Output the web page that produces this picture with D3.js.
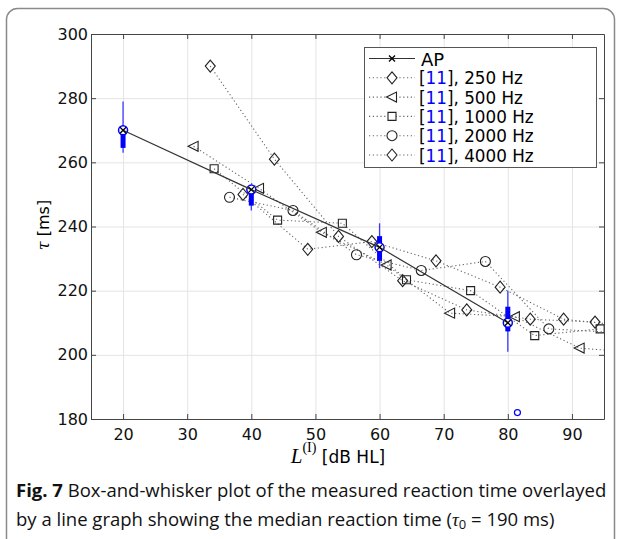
<!DOCTYPE html>
<meta charset="utf-8">
<style>
body { margin: 0; background: #fff; }
svg { font-family: "DejaVu Sans", sans-serif; }
.grid line { stroke: #e4e4e4; }
.grid path { display: none; }
.axis path, .axis line { stroke: #444; }
.axis text { font-size: 16px; fill: #111; font-family: "DejaVu Sans", sans-serif; }
</style>
<svg width="622" height="539"></svg>
<script src="https://d3js.org/d3.v7.min.js"></script>
<script>

// median reaction time (AP) and box stats per level
var apLevels = [20, 40, 60, 80],
    apMedian = [270, 251.5, 233.5, 210],
    boxLow   = [263, 245, 227, 201],
    boxQ1    = [264.5, 246.5, 229.3, 207.3],
    boxQ3    = [270.5, 252, 237, 215],
    boxHigh  = [279, 253, 241, 220];

var outlierX = [81.5],
    outlierY = [182];

// reference [11] curves
var x250  = [38.7, 48.8, 58.8, 68.8, 78.8, 88.7, 98.7],
    y250  = [250, 232.9, 235.3, 229.3, 221.1, 211.1, 209];
var x500  = [31.0, 41.2, 51.0, 61.1, 71.0, 81.1, 91.2, 101.2],
    y500  = [265, 251.9, 238.2, 228.0, 213, 211.9, 202.1, 200.5];
var x1000 = [34.2, 44.1, 54.2, 64.2, 74.2, 84.2, 94.4],
    y1000 = [258, 242, 241, 223.4, 220, 206, 208.1];
var x2000 = [36.6, 46.5, 56.4, 66.5, 76.5, 86.4, 96.4],
    y2000 = [249.1, 245, 231.2, 226.3, 229.1, 208.1, 207];
var x4000 = [33.6, 43.6, 53.6, 63.6, 73.6, 83.5, 93.6],
    y4000 = [290, 261, 236.9, 223.1, 214, 211.1, 210.2];

var xTicks = [20, 30, 40, 50, 60, 70, 80, 90],
    yTicks = [180, 200, 220, 240, 260, 280, 300];

var legendLabels = ["250 Hz", "500 Hz", "1000 Hz", "2000 Hz", "4000 Hz"];

var svg = d3.select("svg");

var pLeft = 91, pRight = 604, pTop = 34, pBottom = 419;

var x = d3.scaleLinear().domain([15, 95]).range([pLeft, pRight]),
    y = d3.scaleLinear().domain([180, 300]).range([pBottom, pTop]);

// figure frame
svg.append("rect")
    .attr("x", 6.5).attr("y", 8.5)
    .attr("width", 608).attr("height", 580)
    .attr("rx", 11)
    .attr("fill", "none")
    .attr("stroke", "#8a8a8a")
    .attr("stroke-width", 1.5);

svg.append("clipPath").attr("id", "plot-clip")
  .append("rect")
    .attr("x", pLeft).attr("y", pTop)
    .attr("width", pRight - pLeft).attr("height", pBottom - pTop);

// grid
svg.append("g").attr("class", "grid")
    .attr("transform", "translate(0," + pBottom + ")")
    .call(d3.axisBottom(x).tickValues(xTicks).tickSize(-(pBottom - pTop)).tickFormat(""));
svg.append("g").attr("class", "grid")
    .attr("transform", "translate(" + pLeft + ",0)")
    .call(d3.axisLeft(y).tickValues(yTicks).tickSize(-(pRight - pLeft)).tickFormat(""));

// axes (ticks inward, box on)
svg.append("g").attr("class", "axis")
    .attr("transform", "translate(0," + pBottom + ")")
    .call(d3.axisBottom(x).tickValues(xTicks).tickSizeInner(-5).tickSizeOuter(0).tickPadding(10));
svg.append("g").attr("class", "axis")
    .attr("transform", "translate(" + pLeft + ",0)")
    .call(d3.axisLeft(y).tickValues(yTicks).tickSizeInner(-5).tickSizeOuter(0).tickPadding(3));
svg.append("g").attr("class", "axis")
    .attr("transform", "translate(0," + pTop + ")")
    .call(d3.axisTop(x).tickValues(xTicks).tickSizeInner(-5).tickSizeOuter(0).tickFormat(""));
svg.append("g").attr("class", "axis")
    .attr("transform", "translate(" + pRight + ",0)")
    .call(d3.axisRight(y).tickValues(yTicks).tickSizeInner(-5).tickSizeOuter(0).tickFormat(""));

// marker shapes
var shapes = {
  diamond: "M0,-6L5,0L0,6L-5,0Z",
  triangle: "M-5.5,0L4.5,-5L4.5,5Z",
  square: "M-4,-4H4V4H-4Z",
  circle: "M5,0A5,5 0 1,1 -5,0A5,5 0 1,1 5,0Z",
  cross: "M-3,-3L3,3M-3,3L3,-3"
};

var refs = [
  {xs: x250, ys: y250, shape: "diamond"},
  {xs: x500, ys: y500, shape: "triangle"},
  {xs: x1000, ys: y1000, shape: "square"},
  {xs: x2000, ys: y2000, shape: "circle"},
  {xs: x4000, ys: y4000, shape: "diamond"}
];

var plot = svg.append("g").attr("clip-path", "url(#plot-clip)");

var line = d3.line().x(function(d) { return x(d[0]); }).y(function(d) { return y(d[1]); });

refs.forEach(function(s) {
  var pts = d3.zip(s.xs, s.ys);
  plot.append("path")
      .datum(pts)
      .attr("d", line)
      .attr("fill", "none")
      .attr("stroke", "#666")
      .attr("stroke-width", 1.1)
      .attr("stroke-dasharray", "1.2,2.6");
  plot.selectAll(null)
      .data(pts)
    .enter().append("path")
      .attr("transform", function(d) { return "translate(" + x(d[0]) + "," + y(d[1]) + ")"; })
      .attr("d", shapes[s.shape])
      .attr("fill", "none")
      .attr("stroke", "#222")
      .attr("stroke-width", 1.1);
});

// box plots
var boxes = apLevels.map(function(l, i) {
  return {x: l, lo: boxLow[i], q1: boxQ1[i], med: apMedian[i], q3: boxQ3[i], hi: boxHigh[i]};
});

var bp = svg.append("g");
bp.selectAll(".whisker").data(boxes).enter().append("line")
    .attr("x1", function(d) { return x(d.x); })
    .attr("x2", function(d) { return x(d.x); })
    .attr("y1", function(d) { return y(d.lo); })
    .attr("y2", function(d) { return y(d.hi); })
    .attr("stroke", "#3a3aff")
    .attr("stroke-width", 1.3);
bp.selectAll(".box").data(boxes).enter().append("line")
    .attr("x1", function(d) { return x(d.x); })
    .attr("x2", function(d) { return x(d.x); })
    .attr("y1", function(d) { return y(d.q1); })
    .attr("y2", function(d) { return y(d.q3); })
    .attr("stroke", "#0000ff")
    .attr("stroke-width", 5);
bp.selectAll(".med").data(boxes).enter().append("circle")
    .attr("cx", function(d) { return x(d.x); })
    .attr("cy", function(d) { return y(d.med); })
    .attr("r", 4.5)
    .attr("fill", "#fff")
    .attr("stroke", "#0000ff")
    .attr("stroke-width", 1.5);
bp.selectAll(".out").data(d3.zip(outlierX, outlierY)).enter().append("circle")
    .attr("cx", function(d) { return x(d[0]); })
    .attr("cy", function(d) { return y(d[1]); })
    .attr("r", 3)
    .attr("fill", "none")
    .attr("stroke", "#0000ff")
    .attr("stroke-width", 1.2);

// AP median line
var apPts = d3.zip(apLevels, apMedian);
svg.append("path")
    .datum(apPts)
    .attr("d", line)
    .attr("fill", "none")
    .attr("stroke", "#333")
    .attr("stroke-width", 1.2);
svg.selectAll(".apm").data(apPts).enter().append("path")
    .attr("transform", function(d) { return "translate(" + x(d[0]) + "," + y(d[1]) + ")"; })
    .attr("d", shapes.cross)
    .attr("stroke", "#000")
    .attr("stroke-width", 1.3);

// legend
var lg = svg.append("g").attr("transform", "translate(364,47)");
lg.append("rect")
    .attr("x", 0.5).attr("y", 0.5)
    .attr("width", 232).attr("height", 120)
    .attr("fill", "#fff")
    .attr("stroke", "#555");

var rowY = function(i) { return 11.5 + i * 19.3; };

lg.append("line").attr("x1", 5).attr("x2", 51).attr("y1", rowY(0)).attr("y2", rowY(0))
    .attr("stroke", "#333").attr("stroke-width", 1.2);
lg.append("path").attr("transform", "translate(28," + rowY(0) + ")")
    .attr("d", shapes.cross).attr("stroke", "#000").attr("stroke-width", 1.3);
lg.append("text").attr("x", 57).attr("y", rowY(0) + 7)
    .style("font-size", "18px").text("AP");

refs.forEach(function(s, i) {
  var yy = rowY(i + 1);
  lg.append("line").attr("x1", 5).attr("x2", 51).attr("y1", yy).attr("y2", yy)
      .attr("stroke", "#666").attr("stroke-width", 1.1).attr("stroke-dasharray", "1.2,2.6");
  lg.append("path").attr("transform", "translate(28," + yy + ")")
      .attr("d", shapes[s.shape]).attr("fill", "#fff").attr("stroke", "#222").attr("stroke-width", 1.1);
  var t = lg.append("text").attr("x", 55).attr("y", yy + 6.5).style("font-size", "16.8px");
  t.append("tspan").text("[");
  t.append("tspan").attr("fill", "#0000ff").text("11");
  t.append("tspan").text("], " + legendLabels[i]);
});

// axis labels
var yl = svg.append("text")
    .attr("transform", "translate(49,225) rotate(-90)")
    .attr("text-anchor", "middle")
    .style("font-size", "16px");
yl.append("tspan").style("font-style", "italic").style("font-family", "DejaVu Serif, serif").text("τ");
yl.append("tspan").text(" [ms]");

var xl = svg.append("text")
    .attr("x", 338).attr("y", 463)
    .attr("text-anchor", "middle")
    .style("font-size", "17px");
xl.append("tspan").style("font-style", "italic").style("font-family", "Liberation Serif, serif").style("font-size", "21px").text("L");
xl.append("tspan").attr("dy", -11).style("font-family", "Liberation Serif, serif").style("font-size", "14px").text("(I)");
xl.append("tspan").attr("dy", 11).text(" [dB HL]");

// caption
var cap = svg.append("g").style("font-family", "'Open Sans', sans-serif").style("font-size", "18.5px").attr("fill", "#111");
var c1 = cap.append("text").attr("x", 16).attr("y", 497);
c1.append("tspan").style("font-weight", "bold").text("Fig. 7");
c1.append("tspan").text(" Box-and-whisker plot of the measured reaction time overlayed");
var c2 = cap.append("text").attr("x", 16).attr("y", 526);
c2.append("tspan").text("by a line graph showing the median reaction time (");
c2.append("tspan").style("font-style", "italic").style("font-family", "Liberation Serif, serif").style("font-size", "19px").text("τ");
c2.append("tspan").attr("dy", 3).style("font-size", "13px").text("0");
c2.append("tspan").attr("dy", -3).text(" = 190 ms)");

</script>
